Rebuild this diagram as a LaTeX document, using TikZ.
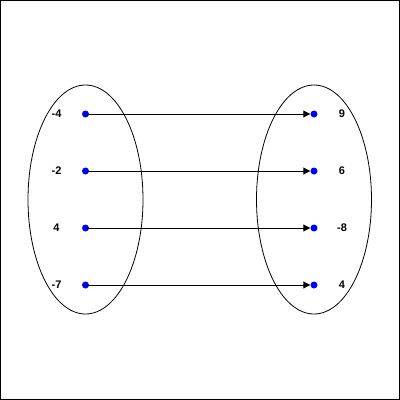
\documentclass[tikz,border=0pt]{standalone}
\usepackage{fontspec}
\setmainfont{Liberation Sans}
\usetikzlibrary{arrows.meta,shapes.geometric}
\begin{document}
\begin{tikzpicture}[x=1pt,y=-1pt,
  dot/.style={circle,fill=blue,inner sep=0pt,minimum size=7pt},
  lbl/.style={font=\fontsize{11}{13}\selectfont\bfseries,inner sep=0pt},
  set/.style={draw=black,line width=0.8pt},
  maparrow/.style={draw=black,line width=0.9pt,-{Triangle[length=7pt,width=7pt]}}]
\useasboundingbox (0,0) rectangle (400,400);
\node[draw=black,line width=1pt,minimum width=399pt,minimum height=399pt,inner sep=0pt] (frame) at (200,200) {};
\node[set,ellipse,draw,minimum width=115pt,minimum height=229pt,inner sep=0pt] (A) at (85.5,199.5) {};
\node[set,ellipse,draw,minimum width=115pt,minimum height=229pt,inner sep=0pt] (B) at (314,199.5) {};
\foreach \i/\y/\a/\b in {1/114/-4/9,2/171/-2/6,3/228/4/-8,4/285/-7/4}{
  \node[dot] (l\i) at (85.5,\y) {};
  \node[dot] (r\i) at (314,\y) {};
  \node[lbl] (la\i) at (56.5,\y) {\a};
  \node[lbl] (lb\i) at (342,\y) {\b};
  \draw[maparrow] (l\i.center) -- (r\i.west);
}
\end{tikzpicture}
\end{document}
